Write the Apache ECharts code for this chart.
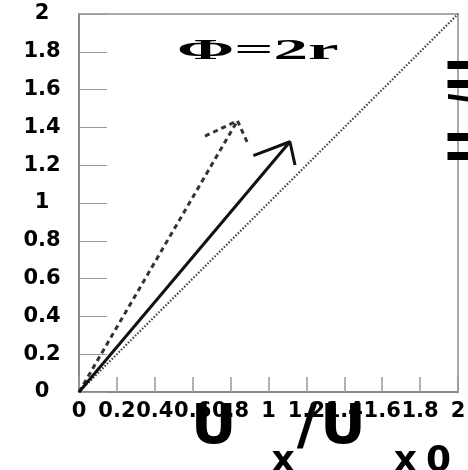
<!DOCTYPE html>
<html>
<head>
<meta charset="utf-8">
<script src="https://cdn.jsdelivr.net/npm/echarts@6/dist/echarts.min.js"></script>
<style>
  html, body { margin: 0; padding: 0; background: #fff; }
  #chart { width: 468px; height: 470px; }
</style>
</head>
<body>
<div id="chart"></div>
<script>
// Axis range and tick labels (same for both axes)
const axisMin = 0;
const axisMax = 2;
const axisStep = 0.2;
const tickLabels = ['0', '0.2', '0.4', '0.6', '0.8', '1', '1.2', '1.4', '1.6', '1.8', '2'];

// Reference diagonal U_x = U_x0
const diagonalLine = [[0, 0], [2, 2]];

// Solid arrow: shaft and head
const solidShaft = [[0, 0], [1.113, 1.324]];
const solidHead = [[0.920, 1.251], [1.113, 1.324], [1.140, 1.201]];

// Dashed arrow: shaft and head
const dashedShaft = [[0, 0], [0.836, 1.435]];
const dashedHead = [[0.665, 1.354], [0.836, 1.435], [0.893, 1.310]];

const labelFont = 'DejaVu Sans';

function tickFormatter(v) {
  const i = Math.round((v - axisMin) / axisStep);
  return tickLabels[i] !== undefined ? tickLabels[i] : '';
}

function lineSeries(data, color, width, type) {
  return {
    type: 'line',
    data: data,
    showSymbol: false,
    symbol: 'none',
    silent: true,
    animation: false,
    lineStyle: { color: color, width: width, type: type, cap: 'butt' }
  };
}

function nameToken(size, lineHeight, padding) {
  return {
    fontFamily: labelFont, fontWeight: 'bold', fontSize: size, lineHeight: lineHeight,
    color: '#000', verticalAlign: 'top', padding: padding
  };
}

// letters of the neighbouring panel's vertical title, cut by the right edge
function edgeGlyph(text, yCenter) {
  return {
    type: 'text', x: 445, y: yCenter, rotation: Math.PI / 2, scaleY: 2.2, silent: true,
    style: {
      text: text, font: 'bold 43px "DejaVu Sans"', fill: '#000',
      align: 'center', textAlign: 'center', verticalAlign: 'top', textVerticalAlign: 'top'
    }
  };
}

const chart = echarts.init(document.getElementById('chart'), null, { renderer: 'canvas' });

chart.setOption({
  backgroundColor: '#fff',
  animation: false,
  grid: {
    left: 79, right: 10, top: 14, bottom: 78,
    containLabel: false,
    outerBoundsMode: 'none',
    show: true,
    borderColor: '#aaa',
    borderWidth: 2,
    backgroundColor: 'transparent'
  },
  xAxis: {
    type: 'value',
    min: axisMin, max: axisMax, interval: axisStep,
    axisLine: { show: true, onZero: false, lineStyle: { color: '#888', width: 2 } },
    axisTick: { show: true, inside: true, length: 15, lineStyle: { color: '#999', width: 1.5 } },
    splitLine: { show: false },
    axisLabel: {
      formatter: tickFormatter,
      fontFamily: labelFont, fontWeight: 'bold', fontSize: 21, color: '#000',
      margin: 9, showMinLabel: true, showMaxLabel: true, hideOverlap: false
    },
    name: '{a|U}{b|x}{c|/}{d|U}{e|x}{f|0}',
    nameLocation: 'middle',
    nameGap: 8,
    nameMoveOverlap: false,
    nameTextStyle: {
      rich: {
        a: nameToken(56, 60, [0, 0, 0, 105]),
        b: nameToken(36, 36, [44, 0, 0, 35]),
        c: nameToken(56, 60, [0, 0, 0, 2]),
        d: nameToken(56, 60, [0, 0, 0, 3]),
        e: nameToken(36, 36, [44, 0, 0, 28]),
        f: nameToken(36, 36, [44, 0, 0, 9])
      }
    }
  },
  yAxis: {
    type: 'value',
    min: axisMin, max: axisMax, interval: axisStep,
    axisLine: { show: true, onZero: false, lineStyle: { color: '#888', width: 2 } },
    axisTick: { show: true, inside: true, length: 28, lineStyle: { color: '#999', width: 1 } },
    splitLine: { show: false },
    axisLabel: {
      formatter: tickFormatter,
      fontFamily: labelFont, fontWeight: 'bold', fontSize: 21, color: '#000',
      align: 'center', margin: 37, showMinLabel: true, showMaxLabel: true
    }
  },
  graphic: [
    {
      type: 'text', left: 177, top: 36, scaleX: 2.3, silent: true,
      style: {
        text: 'Φ=2r',
        font: 'bold 30px "Liberation Serif"',
        fill: '#000'
      }
    },
    edgeGlyph('U', 146.5),
    edgeGlyph('/', 102),
    edgeGlyph('U', 74.5)
  ],
  series: [
    lineSeries(diagonalLine, '#444', 2.2, [1.5, 1.8]),
    lineSeries(dashedShaft, '#333', 3, [5, 4]),
    lineSeries(dashedHead, '#333', 3, [5, 4]),
    lineSeries(solidShaft, '#111', 3, 'solid'),
    lineSeries(solidHead, '#111', 3, 'solid')
  ]
});
</script>
</body>
</html>
